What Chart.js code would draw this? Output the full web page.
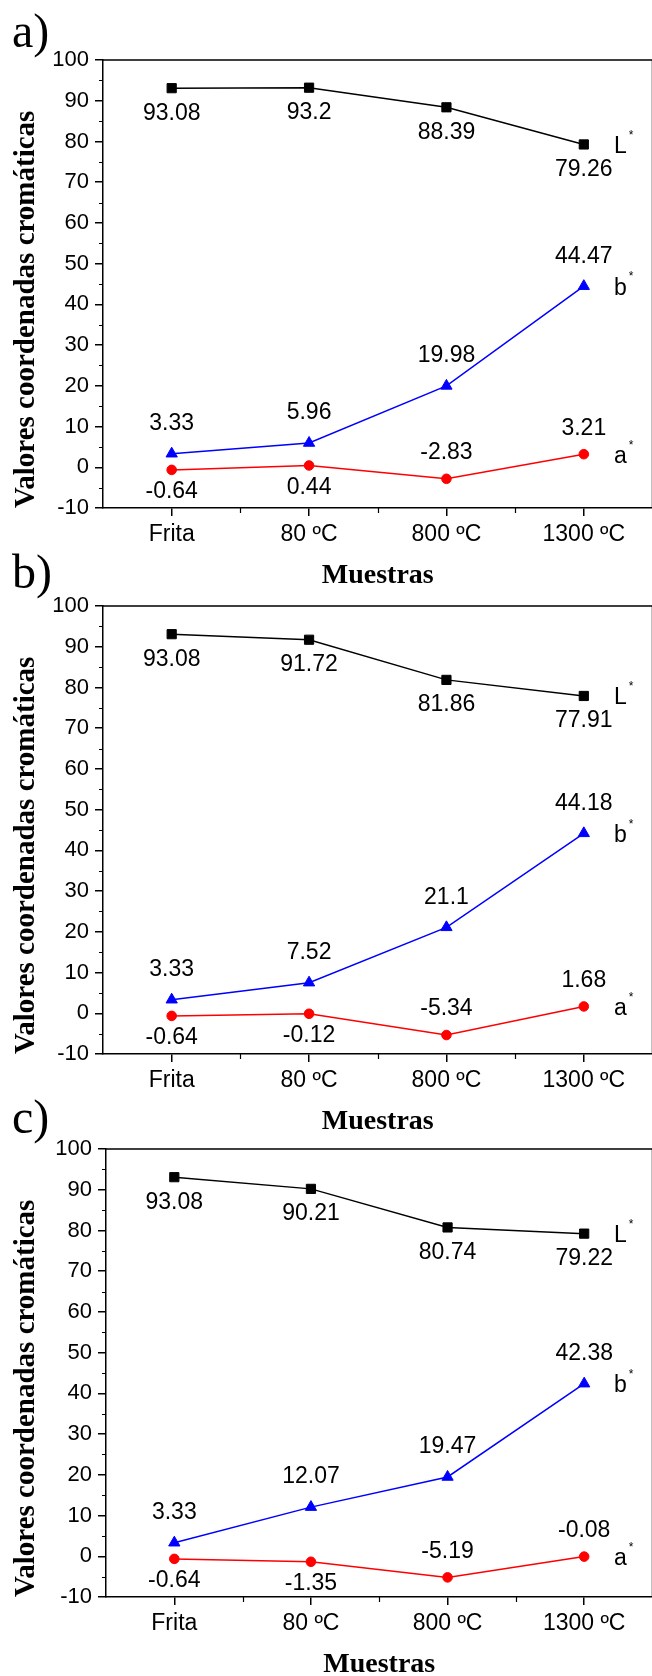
<!DOCTYPE html>
<html>
<head>
<meta charset="utf-8">
<script src="https://cdn.jsdelivr.net/npm/chart.js@4.4.0/dist/chart.umd.min.js"></script>
<style>
  html, body { margin: 0; padding: 0; background: #fff; }
  body { width: 652px; height: 1676px; overflow: hidden; position: relative; }
  canvas { position: absolute; left: 0; }
</style>
</head>
<body>
<canvas id="chartA" width="660" height="590" style="top:0px"></canvas>
<canvas id="chartB" width="660" height="590" style="top:546px"></canvas>
<canvas id="chartC" width="660" height="590" style="top:1089px"></canvas>
<script>
// categories on the x axis
const categories = ["Frita", "80 ºC", "800 ºC", "1300 ºC"]
const yMin = -10
const yMax = 100
const yStep = 10

// panel a)
const lA = [93.08, 93.2, 88.39, 79.26]
const bA = [3.33, 5.96, 19.98, 44.47]
const aA = [-0.64, 0.44, -2.83, 3.21]

// panel b)
const lB = [93.08, 91.72, 81.86, 77.91]
const bB = [3.33, 7.52, 21.1, 44.18]
const aB = [-0.64, -0.12, -5.34, 1.68]

// panel c)
const lC = [93.08, 90.21, 80.74, 79.22]
const bC = [3.33, 12.07, 19.47, 42.38]
const aC = [-0.64, -1.35, -5.19, -0.08]

const SANS = "'Liberation Sans', Arial, sans-serif"
const SERIF = "'Liberation Serif', 'Times New Roman', serif"

const decorations = {
  id: "decorations",
  afterDraw(chart, args, opts) {
    const { ctx, chartArea, scales } = chart
    const { left, right, top, bottom } = chartArea
    ctx.save()

    // top / right frame
    ctx.strokeStyle = "#000"
    ctx.lineWidth = 1.5
    ctx.beginPath()
    ctx.moveTo(left, top)
    ctx.lineTo(right, top)
    ctx.lineTo(right, bottom)
    ctx.stroke()

    // minor ticks
    ctx.lineWidth = 1.2
    ctx.beginPath()
    for (let v = yMin + yStep / 2; v < yMax; v += yStep) {
      const y = Math.round(scales.y.getPixelForValue(v)) + 0.5
      ctx.moveTo(left - 4, y)
      ctx.lineTo(left, y)
    }
    for (let i = 0; i < categories.length - 1; i++) {
      const x = Math.round(scales.x.getPixelForValue(i + 0.5)) + 0.5
      ctx.moveTo(x, bottom)
      ctx.lineTo(x, bottom + 5)
    }
    ctx.stroke()

    // value labels
    const bSet = chart.data.datasets.find(d => d.key === "b")
    ctx.fillStyle = "#000"
    ctx.font = "23px " + SANS
    ctx.textAlign = "center"
    ctx.textBaseline = "middle"
    chart.data.datasets.forEach((ds, di) => {
      const meta = chart.getDatasetMeta(di)
      meta.data.forEach((pt, i) => {
        let dy
        if (ds.key === "L") dy = 25
        else if (ds.key === "b") dy = -30
        else dy = (bSet.data[i] - ds.data[i] > 20) ? -26 : 22
        ctx.fillText(String(ds.data[i]), pt.x, pt.y + dy)
      })

      // series name with superscript asterisk
      const last = meta.data[meta.data.length - 1]
      ctx.textAlign = "left"
      ctx.font = "23px " + SANS
      const nx = 614
      ctx.fillText(ds.key, nx, last.y + 2)
      const w = ctx.measureText(ds.key).width
      ctx.font = "12px " + SANS
      ctx.fillText("*", nx + w + 2, last.y - 9)
      ctx.font = "23px " + SANS
      ctx.textAlign = "center"
    })

    // y axis title, bottom anchored to the plot bottom
    ctx.save()
    ctx.translate(27, bottom)
    ctx.rotate(-Math.PI / 2)
    ctx.font = "bold 29px " + SERIF
    ctx.textAlign = "left"
    ctx.textBaseline = "middle"
    ctx.fillText("Valores coordenadas cromáticas", 0, 0)
    ctx.restore()

    // panel letter
    ctx.font = "48px " + SERIF
    ctx.textAlign = "left"
    ctx.textBaseline = "alphabetic"
    ctx.fillText(opts.letter, 12, opts.letterY)

    ctx.restore()
  }
}

function makeChart(id, letter, letterY, padLeft, L, b, a) {
  const ctx = document.getElementById(id).getContext("2d")
  return new Chart(ctx, {
    type: "line",
    data: {
      labels: categories,
      datasets: [
        {
          key: "L", data: L,
          borderColor: "#000", backgroundColor: "#000",
          borderWidth: 1.5, pointStyle: "rect", pointRadius: 6.5, pointBorderWidth: 1
        },
        {
          key: "b", data: b,
          borderColor: "#0000ff", backgroundColor: "#0000ff",
          borderWidth: 1.5, pointStyle: "triangle", pointRadius: 6.5, pointBorderWidth: 1
        },
        {
          key: "a", data: a,
          borderColor: "#ff0000", backgroundColor: "#ff0000",
          borderWidth: 1.5, pointStyle: "circle", pointRadius: 4.8, pointBorderWidth: 1
        }
      ]
    },
    options: {
      responsive: false,
      animation: false,
      devicePixelRatio: 1,
      layout: { padding: { top: 60, left: padLeft, right: 4, bottom: 0 } },
      plugins: {
        legend: { display: false },
        tooltip: { enabled: false },
        decorations: { letter: letter, letterY: letterY }
      },
      scales: {
        x: {
          type: "category",
          offset: true,
          grid: { drawOnChartArea: false, offset: false, tickLength: 8, color: "#000", lineWidth: 1.5 },
          border: { display: true, color: "#000", width: 1.5 },
          ticks: { color: "#000", padding: 5, maxRotation: 0, font: { family: SANS, size: 23 } },
          title: {
            display: true, text: "Muestras", color: "#000", padding: { top: 0, bottom: 0 },
            font: { family: SERIF, size: 28, weight: "bold", lineHeight: 1 }
          },
          afterFit: s => { s.height = 82 }
        },
        y: {
          min: yMin,
          max: yMax,
          grid: { drawOnChartArea: false, tickLength: 8, color: "#000", lineWidth: 1.5 },
          border: { display: true, color: "#000", width: 1.5 },
          ticks: { stepSize: yStep, color: "#000", padding: 6, font: { family: SANS, size: 22 } },
          afterFit: s => { s.width = 103 }
        }
      }
    },
    plugins: [decorations]
  })
}

makeChart("chartA", "a)", 47, 0, lA, bA, aA)
makeChart("chartB", "b)", 42, 0, lB, bB, aB)
makeChart("chartC", "c)", 44, 3, lC, bC, aC)
</script>
</body>
</html>
